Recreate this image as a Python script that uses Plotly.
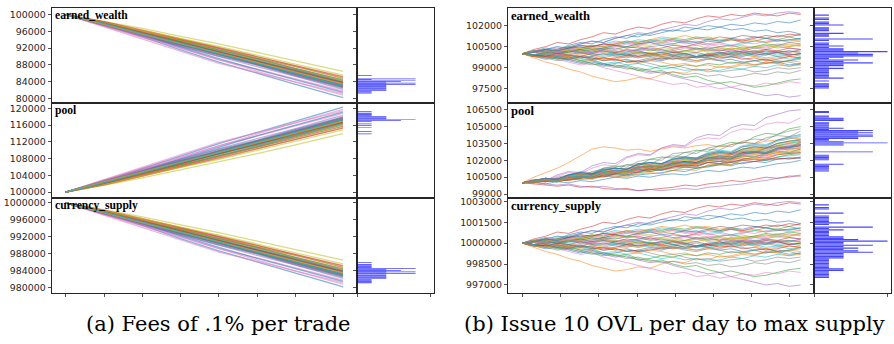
import plotly.graph_objects as go

# ---------------- data ----------------
unit = 100                      # path deltas are stored in units of 100
wealth_start = 100000
pool_start = 100000
currency_start = 1000000

row_names = ["earned_wealth", "pool", "currency_supply"]
captions = ["(a) Fees of .1% per trade", "(b) Issue 10 OVL per day to max supply"]

x_left = [0, 1, 2, 3, 4, 5, 6, 7, 7.24]
x_right = [0, 0.30, 0.61, 0.91, 1.21, 1.52, 1.82, 2.12, 2.43, 2.73, 3.03, 3.34, 3.64,
           3.94, 4.25, 4.55, 4.85, 5.16, 5.46, 5.76, 6.07, 6.37, 6.67, 6.98, 7.28]

left_wealth_delta = [
    [0, -24, -53, -84, -113, -140, -166, -192, -198],
    [0, -21, -45, -72, -96, -116, -139, -165, -170],
    [0, -25, -48, -66, -88, -113, -137, -157, -163],
    [0, -20, -41, -65, -90, -112, -131, -154, -160],
    [0, -26, -50, -73, -93, -117, -144, -167, -172],
    [0, -22, -44, -70, -95, -118, -140, -162, -167],
    [0, -28, -55, -80, -108, -130, -153, -177, -182],
    [0, -19, -42, -63, -85, -107, -130, -152, -158],
    [0, -16, -33, -52, -70, -90, -110, -130, -135],
    [0, -24, -47, -70, -89, -112, -138, -159, -165],
    [0, -23, -49, -75, -99, -120, -146, -170, -175],
    [0, -20, -42, -61, -84, -107, -129, -151, -157],
    [0, -25, -46, -68, -92, -118, -141, -163, -168],
    [0, -18, -39, -60, -81, -104, -124, -146, -152],
    [0, -27, -52, -76, -101, -124, -147, -173, -178],
    [0, -21, -46, -69, -90, -110, -133, -156, -162],
    [0, -29, -57, -86, -116, -138, -160, -183, -188],
    [0, -24, -46, -69, -95, -118, -142, -165, -170],
    [0, -18, -38, -58, -78, -100, -122, -144, -150],
    [0, -23, -45, -67, -87, -109, -132, -154, -160],
    [0, -24, -50, -78, -105, -131, -155, -179, -185],
    [0, -22, -44, -66, -91, -115, -137, -158, -164],
    [0, -22, -44, -63, -84, -105, -128, -150, -155],
    [0, -17, -37, -58, -80, -101, -121, -142, -148],
    [0, -21, -45, -69, -93, -115, -137, -160, -166],
    [0, -25, -49, -72, -94, -118, -142, -167, -173],
    [0, -25, -51, -80, -108, -135, -161, -186, -192],
    [0, -24, -47, -68, -88, -110, -134, -156, -161],
    [0, -18, -37, -57, -76, -97, -118, -139, -144],
    [0, -22, -47, -71, -94, -116, -139, -163, -169],
    [0, -23, -46, -69, -92, -115, -139, -161, -167],
    [0, -21, -44, -67, -91, -114, -136, -159, -165],
    [0, -24, -48, -71, -94, -117, -140, -163, -169],
    [0, -22, -45, -68, -90, -113, -136, -158, -163],
    [0, -25, -49, -73, -97, -120, -144, -167, -172],
    [0, -20, -43, -66, -89, -111, -134, -157, -162],
    [0, -23, -47, -70, -93, -116, -138, -161, -166],
    [0, -22, -46, -70, -94, -117, -141, -164, -170],
    [0, -24, -47, -69, -92, -114, -137, -159, -164],
    [0, -21, -45, -69, -93, -116, -140, -163, -168],
]

left_pool_delta = [
    [0, 25, 56, 86, 116, 143, 170, 197, 203],
    [0, 22, 46, 74, 99, 120, 144, 170, 175],
    [0, 26, 50, 68, 91, 117, 141, 162, 168],
    [0, 21, 42, 67, 93, 116, 135, 159, 165],
    [0, 27, 52, 75, 96, 121, 148, 172, 177],
    [0, 23, 45, 72, 98, 122, 144, 167, 172],
    [0, 29, 57, 83, 111, 134, 158, 182, 188],
    [0, 20, 43, 65, 88, 110, 134, 157, 163],
    [0, 16, 34, 53, 72, 92, 113, 135, 140],
    [0, 25, 48, 72, 92, 115, 142, 164, 170],
    [0, 24, 50, 77, 102, 124, 150, 175, 180],
    [0, 21, 43, 63, 87, 110, 133, 156, 162],
    [0, 26, 47, 70, 95, 122, 145, 168, 173],
    [0, 19, 40, 62, 84, 107, 128, 151, 157],
    [0, 28, 54, 78, 104, 128, 152, 178, 183],
    [0, 22, 47, 71, 93, 113, 137, 161, 167],
    [0, 30, 59, 89, 119, 142, 165, 188, 194],
    [0, 25, 47, 71, 98, 122, 146, 170, 175],
    [0, 18, 39, 60, 80, 103, 126, 149, 155],
    [0, 24, 46, 69, 90, 112, 136, 159, 165],
    [0, 25, 52, 80, 108, 135, 160, 184, 191],
    [0, 23, 45, 68, 94, 118, 141, 163, 169],
    [0, 23, 45, 65, 87, 108, 132, 155, 160],
    [0, 17, 38, 60, 82, 104, 125, 147, 153],
    [0, 22, 46, 71, 96, 118, 141, 165, 171],
    [0, 26, 50, 74, 97, 122, 146, 172, 178],
    [0, 26, 53, 82, 111, 139, 166, 192, 198],
    [0, 25, 48, 70, 91, 113, 138, 161, 166],
    [0, 18, 38, 59, 78, 100, 122, 144, 149],
    [0, 23, 48, 73, 97, 120, 143, 168, 174],
    [0, 24, 47, 71, 95, 118, 143, 166, 172],
    [0, 22, 45, 69, 93, 117, 140, 164, 170],
    [0, 25, 49, 73, 97, 120, 144, 168, 174],
    [0, 23, 46, 70, 93, 116, 140, 163, 168],
    [0, 26, 50, 75, 99, 123, 148, 172, 177],
    [0, 21, 44, 68, 92, 115, 139, 162, 167],
    [0, 24, 48, 72, 96, 119, 142, 166, 171],
    [0, 23, 47, 72, 96, 120, 145, 169, 175],
    [0, 25, 48, 71, 94, 117, 141, 164, 169],
    [0, 22, 46, 71, 95, 119, 143, 167, 173],
]

# currency_supply paths have the same shape as earned_wealth in the picture
left_currency_delta = left_wealth_delta

right_wealth_delta = [
    [0, 2, 4, 3, 6, 8, 7, 10, 12, 11, 14, 13, 15, 17, 16, 18, 17, 19, 21, 20, 22, 21, 23, 22, 24],
    [0, -3, -6, -8, -11, -13, -16, -18, -20, -19, -17, -18, -15, -13, -14, -11, -12, -9, -10, -8, -9, -6, -7, -5, -6],
    [0, 1, -1, -3, -2, -5, -4, -7, -9, -8, -11, -13, -12, -15, -17, -16, -19, -21, -20, -22, -24, -23, -21, -19, -18],
    [0, 3, 5, 8, 7, 10, 12, 15, 14, 17, 19, 18, 21, 23, 22, 25, 27, 26, 28, 27, 29, 28, 27, 29, 28],
    [0, -1, -3, -2, -4, -6, -5, -8, -10, -9, -12, -14, -13, -16, -18, -20, -22, -21, -24, -26, -28, -30, -29, -31, -30],
    [0, 1, 3, 2, 4, 3, 5, 7, 6, 8, 7, 9, 8, 10, 9, 11, 10, 12, 11, 13, 12, 11, 13, 12, 14],
    [0, -2, -1, -4, -6, -8, -7, -10, -12, -14, -16, -18, -20, -22, -21, -24, -23, -25, -24, -22, -23, -21, -22, -20, -21],
    [0, -1, 1, 0, -2, -1, -3, -5, -4, -6, -5, -7, -9, -8, -10, -12, -11, -13, -12, -11, -13, -12, -10, -11, -10],
    [0, 1, 0, 2, 1, 3, 5, 4, 6, 5, 7, 6, 8, 7, 5, 6, 4, 5, 3, 4, 2, 3, 1, 2, 0],
    [0, -1, -3, -2, -4, -3, -5, -7, -6, -8, -7, -9, -11, -10, -12, -11, -13, -12, -10, -11, -9, -10, -8, -9, -7],
    [0, 2, 1, 3, 5, 7, 9, 8, 11, 13, 12, 15, 17, 16, 19, 18, 20, 19, 17, 18, 16, 17, 15, 16, 14],
    [0, 1, 2, 1, 3, 2, 4, 3, 1, 2, 0, 1, -1, 0, 2, 1, 3, 2, 4, 3, 5, 4, 6, 5, 7],
    [0, 2, 1, 3, 5, 4, 6, 5, 7, 9, 8, 10, 9, 11, 10, 12, 11, 9, 10, 8, 9, 11, 10, 12, 10],
    [0, -1, 0, -2, -1, 1, 0, 2, 1, 3, 2, 0, 1, -1, 0, -2, -1, 1, 0, 2, 1, 3, 2, 4, 3],
    [0, 1, 3, 5, 4, 7, 9, 8, 11, 13, 15, 14, 17, 19, 21, 20, 23, 25, 24, 26, 28, 27, 29, 30, 29],
    [0, -1, -2, -1, -3, -2, -4, -3, -5, -4, -6, -5, -3, -4, -2, -3, -1, -2, 0, -1, 1, 0, 2, 1, 3],
    [0, 1, 2, 4, 3, 5, 4, 6, 8, 7, 9, 8, 10, 9, 7, 8, 6, 7, 5, 6, 4, 5, 7, 6, 6],
    [0, -2, -3, -5, -4, -6, -8, -7, -9, -11, -10, -12, -14, -13, -15, -14, -16, -15, -17, -16, -14, -15, -13, -14, -12],
    [0, 1, -1, 0, 2, 1, 3, 2, 0, -1, 1, 0, -2, -1, -3, -2, 0, -1, 1, 0, -2, -1, 1, 0, -1],
    [0, 2, 3, 5, 4, 6, 5, 7, 9, 8, 10, 9, 11, 10, 8, 9, 7, 8, 6, 7, 9, 8, 10, 9, 11],
    [0, -2, -4, -3, -5, -7, -6, -8, -7, -5, -6, -4, -5, -3, -4, -2, -3, -5, -4, -6, -5, -7, -6, -8, -7],
    [0, 2, 1, 3, 2, 4, 6, 5, 7, 9, 8, 10, 12, 11, 13, 11, 12, 10, 11, 9, 10, 8, 9, 10, 9],
    [0, -1, -2, -4, -3, -5, -7, -9, -8, -10, -12, -11, -9, -10, -8, -9, -7, -8, -6, -7, -5, -4, -6, -5, -3],
    [0, 1, 3, 2, 4, 6, 5, 7, 6, 4, 5, 3, 4, 6, 5, 7, 9, 8, 10, 9, 11, 13, 12, 14, 13],
    [0, 1, 0, -1, 1, 2, 1, 3, 2, 1, 3, 4, 2, 3, 5, 4, 2, 3, 1, 2, 4, 3, 5, 4, 3],
    [0, -1, 0, 1, -1, -2, 0, -1, 1, 0, -2, -1, 1, 2, 0, 1, -1, 0, 2, 1, -1, 0, -2, -1, 0],
    [0, 1, 2, 1, 3, 2, 0, 1, -1, 0, 2, 3, 1, 2, 4, 3, 5, 4, 2, 3, 1, 2, 0, 1, 2],
    [0, -1, -2, -1, -3, -2, -4, -3, -1, -2, 0, -1, -3, -2, -4, -5, -3, -4, -2, -3, -5, -4, -6, -5, -4],
    [0, 1, 3, 2, 1, 2, 4, 3, 5, 4, 6, 5, 3, 4, 2, 3, 1, 2, 4, 3, 5, 6, 4, 5, 6],
    [0, -1, 1, 2, 0, 1, -1, -2, 0, -1, -3, -2, 0, 1, -1, 0, -2, -1, 1, 0, 2, 1, -1, 0, -2],
    [0, 2, 1, 0, 2, 3, 1, 2, 0, -1, 1, 0, -2, -1, -3, -2, 0, 1, -1, -2, 0, -1, 1, 2, 1],
    [0, -2, -1, -3, -2, 0, -1, -3, -4, -2, -3, -1, -2, -4, -3, -5, -4, -2, -3, -1, -2, -4, -3, -2, -3],
    [0, 1, 2, 0, 1, 3, 2, 4, 3, 5, 4, 2, 3, 1, 2, 4, 3, 5, 6, 4, 5, 7, 6, 8, 7],
    [0, -1, -2, 0, -1, -3, -2, -4, -3, -1, -2, 0, -1, 1, 0, -2, -1, -3, -2, -4, -3, -5, -4, -2, -3],
    [0, 2, 3, 1, 2, 0, 1, 3, 4, 2, 3, 5, 6, 4, 5, 3, 4, 2, 3, 1, 2, 0, 1, -1, 0],
    [0, -2, -1, -3, -4, -2, -3, -5, -4, -6, -5, -3, -4, -2, -1, -3, -2, 0, -1, 1, 0, 2, 1, -1, 0],
    [0, 1, 0, 2, 3, 1, 2, 4, 5, 7, 6, 8, 7, 9, 8, 6, 7, 5, 6, 8, 7, 9, 10, 8, 9],
    [0, -1, 1, 0, 2, 1, -1, 0, -2, -3, -1, -2, -4, -3, -5, -6, -4, -5, -7, -6, -8, -7, -5, -6, -8],
    [0, 2, 1, 3, 2, 4, 3, 1, 2, 0, 1, -1, 0, 2, 1, 3, 2, 4, 3, 5, 4, 6, 5, 7, 5],
    [0, -1, 0, -2, -1, -3, -2, 0, -1, 1, 2, 0, 1, -1, 0, -2, -3, -1, -2, 0, -1, -3, -2, -4, -3],
    [0, 1, 3, 2, 4, 5, 3, 4, 6, 5, 7, 8, 6, 7, 9, 8, 10, 9, 11, 10, 12, 11, 9, 10, 11],
    [0, -2, -3, -1, -2, -4, -5, -3, -4, -6, -7, -5, -6, -8, -7, -9, -8, -10, -9, -7, -8, -6, -7, -9, -8],
]

right_pool_delta = [
    [0, 1, -1, 1, 0, 2, 1, 3, 5, 4, 6, 5, 7, 8, 7, 9, 11, 10, 12, 14, 13, 15, 17, 18, 20],
    [0, 5, 9, 13, 18, 24, 30, 32, 31, 29, 30, 28, 30, 32, 31, 33, 34, 32, 34, 36, 35, 37, 38, 40, 39],
    [0, 2, 4, 3, 7, 9, 8, 13, 14, 16, 15, 21, 23, 22, 27, 29, 28, 33, 36, 35, 41, 44, 43, 48, 50],
    [0, -1, -2, -3, -2, -4, -3, -5, -6, -5, -7, -6, -5, -4, -2, -3, -1, 0, 2, 1, 3, 5, 4, 6, 6],
    [0, 3, 2, 7, 10, 9, 15, 18, 17, 23, 26, 25, 31, 34, 33, 40, 43, 42, 49, 52, 51, 58, 61, 64, 65],
    [0, 1, 3, 2, 4, 5, 7, 6, 8, 9, 11, 10, 12, 13, 14, 13, 15, 16, 18, 17, 19, 20, 21, 22, 22],
    [0, 3, 2, 6, 9, 8, 13, 16, 15, 22, 25, 24, 31, 33, 32, 38, 40, 39, 45, 48, 47, 52, 54, 53, 58],
    [0, 2, 1, 5, 7, 6, 10, 12, 11, 16, 17, 16, 22, 24, 23, 28, 30, 29, 34, 36, 35, 40, 42, 41, 46],
    [0, 1, 2, 1, 5, 6, 5, 9, 10, 9, 13, 15, 14, 18, 20, 19, 24, 26, 25, 29, 31, 30, 34, 35, 36],
    [0, 2, 4, 3, 7, 8, 7, 12, 13, 12, 17, 18, 17, 22, 23, 22, 27, 29, 28, 33, 35, 34, 38, 40, 42],
    [0, 0, 2, 1, 3, 3, 4, 6, 5, 7, 7, 8, 9, 11, 10, 13, 14, 16, 15, 18, 19, 18, 21, 22, 22],
    [0, 1, 1, 3, 2, 5, 4, 7, 9, 8, 12, 11, 14, 15, 14, 17, 18, 17, 21, 22, 21, 25, 27, 26, 29],
    [0, 0, 2, 1, 3, 5, 4, 6, 7, 6, 9, 10, 12, 11, 14, 13, 15, 17, 16, 20, 21, 20, 23, 25, 26],
    [0, 2, 3, 2, 5, 7, 6, 8, 10, 9, 13, 15, 14, 17, 18, 17, 20, 22, 21, 26, 27, 26, 30, 32, 33],
    [0, 0, -1, -2, -1, -3, -4, -3, -5, -6, -7, -6, -7, -6, -5, -6, -4, -3, -2, -1, 1, 2, 4, 5, 7],
    [0, 2, 3, 2, 6, 7, 6, 10, 11, 10, 14, 15, 14, 17, 19, 18, 22, 23, 22, 26, 27, 26, 30, 31, 33],
    [0, 1, 2, 4, 3, 6, 5, 8, 9, 8, 11, 12, 11, 14, 16, 15, 19, 20, 19, 23, 24, 23, 26, 27, 28],
    [0, 2, 4, 3, 7, 10, 9, 13, 15, 14, 19, 21, 20, 26, 27, 26, 31, 33, 32, 37, 39, 38, 43, 46, 48],
    [0, 2, 3, 2, 5, 7, 6, 10, 11, 10, 14, 16, 15, 19, 21, 20, 24, 26, 25, 29, 30, 29, 33, 35, 37],
    [0, 1, 2, 1, 4, 5, 4, 7, 8, 7, 10, 12, 11, 15, 16, 15, 18, 19, 18, 21, 21, 20, 23, 24, 25],
    [0, 2, 4, 3, 7, 9, 8, 12, 13, 12, 17, 18, 17, 21, 23, 22, 26, 28, 27, 32, 34, 33, 38, 41, 43],
    [0, 0, 2, 1, 3, 4, 3, 6, 6, 5, 8, 9, 8, 11, 12, 11, 16, 17, 16, 21, 22, 21, 25, 26, 27],
    [0, 1, 3, 2, 6, 8, 7, 11, 13, 12, 16, 17, 16, 20, 22, 21, 25, 27, 26, 30, 32, 31, 35, 37, 39],
    [0, 1, 1, 3, 2, 4, 6, 5, 8, 10, 9, 13, 12, 14, 16, 15, 18, 17, 19, 20, 19, 21, 22, 21, 23],
    [0, 1, 3, 2, 5, 6, 5, 9, 10, 9, 13, 14, 13, 17, 18, 17, 21, 22, 21, 25, 27, 26, 30, 31, 33],
    [0, 2, 1, 4, 5, 4, 8, 10, 9, 12, 14, 13, 16, 17, 16, 21, 22, 21, 25, 27, 26, 31, 32, 31, 36],
    [0, 1, 2, 1, 4, 5, 4, 8, 10, 9, 11, 13, 12, 15, 17, 16, 20, 21, 20, 24, 26, 25, 29, 30, 32],
    [0, 2, 4, 3, 6, 8, 7, 11, 13, 12, 17, 18, 17, 21, 23, 22, 26, 28, 27, 32, 33, 32, 37, 39, 41],
    [0, 1, 2, 1, 5, 6, 5, 8, 10, 9, 13, 14, 13, 16, 17, 16, 20, 21, 20, 24, 25, 24, 27, 28, 30],
    [0, 1, 2, 1, 5, 7, 6, 9, 11, 10, 14, 15, 14, 18, 19, 18, 23, 24, 23, 28, 29, 28, 33, 35, 37],
    [0, 2, 3, 2, 5, 6, 5, 9, 11, 10, 13, 15, 14, 18, 19, 18, 22, 24, 23, 27, 28, 27, 31, 32, 34],
    [0, 1, 3, 2, 6, 7, 6, 10, 12, 11, 15, 16, 15, 19, 21, 20, 24, 26, 25, 30, 31, 30, 35, 36, 38],
    [0, 2, 1, 3, 5, 4, 7, 9, 8, 11, 12, 11, 14, 16, 15, 18, 20, 19, 22, 24, 23, 26, 28, 27, 30],
    [0, 1, 3, 2, 5, 7, 6, 9, 11, 10, 14, 15, 14, 18, 19, 18, 22, 24, 23, 27, 28, 27, 31, 33, 34],
    [0, 2, 1, 4, 6, 5, 8, 10, 9, 13, 14, 13, 17, 19, 18, 22, 23, 22, 26, 28, 27, 31, 33, 32, 36],
    [0, 1, 2, 1, 3, 5, 4, 7, 8, 7, 10, 12, 11, 14, 15, 14, 18, 19, 18, 21, 23, 22, 25, 26, 27],
    [0, 2, 4, 3, 6, 7, 6, 10, 11, 10, 14, 16, 15, 19, 21, 20, 24, 25, 24, 28, 30, 29, 33, 34, 35],
    [0, 1, 2, 1, 4, 6, 5, 8, 10, 9, 12, 13, 12, 16, 18, 17, 21, 22, 21, 25, 27, 26, 29, 30, 31],
    [0, 2, 3, 2, 5, 7, 6, 9, 10, 9, 13, 15, 14, 18, 20, 19, 23, 24, 23, 28, 29, 28, 32, 33, 35],
    [0, 1, 3, 2, 5, 6, 5, 9, 11, 10, 13, 14, 13, 17, 18, 17, 22, 23, 22, 26, 28, 27, 31, 32, 34],
    [0, 2, 4, 3, 7, 9, 8, 11, 13, 12, 16, 18, 17, 21, 22, 21, 25, 27, 26, 30, 32, 31, 35, 37, 38],
    [0, 1, 2, 1, 4, 5, 4, 8, 9, 8, 12, 13, 12, 15, 17, 16, 20, 21, 20, 23, 25, 24, 27, 29, 31],
]

right_currency_delta = right_wealth_delta

# histograms of final values: first bin centre, bin width, counts
hist_left_wealth = dict(first=81300, width=200,
                        counts=[1, 1, 1, 2, 2, 2, 2, 2, 2, 2, 4, 2, 4, 2, 3, 4, 1, 4, 0, 0, 0, 1])
hist_left_pool = dict(first=113900, width=200,
                      counts=[1, 0, 0, 1, 0, 0, 0, 0, 1, 0, 1, 0, 1, 0, 0, 1, 3, 4, 2, 2, 2, 2, 1, 1, 1, 1, 0, 1])
hist_left_currency = dict(first=981100, width=200,
                          counts=[1, 1, 1, 1, 1, 2, 2, 2, 2, 2, 2, 4, 2, 4, 2, 3, 2, 4, 1, 1, 1, 1, 1, 0, 1])
hist_right_wealth = dict(first=97550, width=100, counts=[
    1, 1, 1, 1, 0,
    1, 0, 2, 1, 1, 1, 1, 1, 1, 2,
    1, 2, 2, 4, 2, 3, 1, 2, 4, 4,
    3, 5, 2, 2, 1, 2, 1, 1, 0, 1,
    4, 0, 1, 1, 2, 0, 1, 1, 1, 0,
    2, 1, 1, 0, 1, 1, 0, 1])
hist_right_pool = dict(first=101050, width=100, counts=[
    1, 1, 1, 1, 1, 1, 2, 0, 0, 0,
    1, 1, 1, 1, 1, 0, 0, 4, 0, 0,
    0, 0, 0, 2, 2, 5, 2, 1, 1, 3,
    3, 4, 4, 3, 4, 3, 4, 1, 2, 1,
    1, 1, 1, 1, 0, 2, 2, 2, 1, 1,
    0, 0, 1, 1])
hist_right_currency = dict(first=997550, width=100, counts=[
    1, 1, 1, 1, 1,
    2, 2, 1, 1, 1, 1, 1, 1, 1, 2,
    2, 2, 2, 4, 3, 2, 3, 2, 4, 2,
    2, 5, 3, 2, 2, 1, 1, 1, 1, 2,
    1, 4, 0, 1, 2, 1, 1, 1, 1, 1,
    0, 2, 0, 0, 1, 1, 0, 1])

left_ticks = [
    [80000, 84000, 88000, 92000, 96000, 100000],
    [100000, 104000, 108000, 112000, 116000, 120000],
    [980000, 984000, 988000, 992000, 996000, 1000000],
]
right_ticks = [
    [97500, 99000, 100500, 102000],
    [99000, 100500, 102000, 103500, 105000, 106500],
    [997000, 998500, 1000000, 1001500, 1003000],
]
x_ticks = [0, 1, 2, 3, 4, 5, 6, 7]
hist_ticks = [0, 5]

# ---------------- layout / styling ----------------
W, H = 894, 344
tab10 = ["#1f77b4", "#ff7f0e", "#2ca02c", "#d62728", "#9467bd",
         "#8c564b", "#e377c2", "#7f7f7f", "#bcbd22", "#17becf"]
FRAME = "#262626"

panels = [
    dict(main=(52, 357), hist=(357, 434), xrange=[-0.358, 7.606], x=x_left, lw=1.3,
         title_size=11.6,
         yranges=[[78988, 101576], [98650, 121350], [978830, 1001240]],
         ticks=left_ticks,
         series=[(left_wealth_delta, wealth_start), (left_pool_delta, pool_start),
                 (left_currency_delta, currency_start)],
         hists=[hist_left_wealth, hist_left_pool, hist_left_currency]),
    dict(main=(508.3, 814.3), hist=(814.3, 891.3), xrange=[-0.366, 7.636], x=x_right, lw=1.0,
         title_size=12.6,
         yranges=[[96490, 103270], [98675, 107116], [996454, 1003262]],
         ticks=right_ticks,
         series=[(right_wealth_delta, wealth_start), (right_pool_delta, pool_start),
                 (right_currency_delta, currency_start)],
         hists=[hist_right_wealth, hist_right_pool, hist_right_currency]),
]
rows_px = [(6, 102), (102, 198), (198, 294)]


def xdom(a, b):
    return [a / W, b / W]


def ydom(top, bottom):
    return [1 - bottom / H, 1 - top / H]


fig = go.Figure()
layout = dict(width=W, height=H, margin=dict(l=0, r=0, t=0, b=0),
              paper_bgcolor="white", plot_bgcolor="white", showlegend=False,
              hovermode=False, annotations=[])

axis_common = dict(showgrid=False, zeroline=False, showline=True, mirror=True,
                   linecolor=FRAME, linewidth=1, fixedrange=True)

for p, pan in enumerate(panels):
    for r in range(3):
        k = p * 6 + r * 2 + 1
        kh = k + 1
        yd = ydom(*rows_px[r])
        bottom_row = (r == 2)
        # main axes
        layout[f"xaxis{k}"] = dict(axis_common, domain=xdom(*pan["main"]), range=pan["xrange"],
                                   anchor=f"y{k}", showticklabels=False,
                                   ticks="outside" if bottom_row else "", tickvals=x_ticks,
                                   ticklen=3.5, tickwidth=0.8, tickcolor=FRAME)
        layout[f"yaxis{k}"] = dict(axis_common, domain=yd, range=pan["yranges"][r],
                                   anchor=f"x{k}", ticks="outside", tickvals=pan["ticks"][r],
                                   tickformat="d", ticklen=3.5, tickwidth=0.8, tickcolor=FRAME,
                                   tickfont=dict(family="DejaVu Sans", size=9.4, color="#262626"))
        # histogram axes
        layout[f"xaxis{kh}"] = dict(axis_common, domain=xdom(*pan["hist"]), range=[0, 5.26],
                                    anchor=f"y{kh}", showticklabels=False,
                                    ticks="outside" if bottom_row else "", tickvals=hist_ticks,
                                    ticklen=3.5, tickwidth=0.8, tickcolor=FRAME)
        layout[f"yaxis{kh}"] = dict(axis_common, domain=yd, range=pan["yranges"][r],
                                    anchor=f"x{kh}", ticks="outside", tickvals=pan["ticks"][r],
                                    showticklabels=False, ticklen=3.5, tickwidth=0.8,
                                    tickcolor=FRAME)

        deltas, start = pan["series"][r]
        for i, path in enumerate(deltas):
            fig.add_trace(go.Scatter(
                x=pan["x"], y=[start + unit * d for d in path], mode="lines",
                line=dict(color=tab10[i % 10], width=pan["lw"]), opacity=0.55,
                xaxis=f"x{k}", yaxis=f"y{k}", hoverinfo="skip", showlegend=False))

        h = pan["hists"][r]
        centers = [h["first"] + j * h["width"] for j in range(len(h["counts"]))]
        fig.add_trace(go.Bar(
            y=centers, x=h["counts"], orientation="h", width=h["width"] * 0.85,
            marker=dict(color="rgba(0,0,255,0.72)", line=dict(width=0)),
            xaxis=f"x{kh}", yaxis=f"y{kh}", hoverinfo="skip", showlegend=False))

        layout["annotations"].append(dict(
            text=f"<b>{row_names[r]}</b>", xref="paper", yref="paper",
            x=pan["main"][0] / W, y=yd[1], xanchor="left", yanchor="top",
            xshift=1, yshift=1, showarrow=False,
            font=dict(family="Liberation Serif", size=pan["title_size"], color="black")))

caption_x = [218, 674]
for c, text in enumerate(captions):
    layout["annotations"].append(dict(
        text=text, xref="paper", yref="paper", x=caption_x[c] / W, y=1 - 326 / H,
        xanchor="center", yanchor="middle", showarrow=False,
        font=dict(family="DejaVu Serif", size=21, color="black")))

fig.update_layout(**layout)
fig.write_html("out.html", config={"displayModeBar": False, "staticPlot": True})
